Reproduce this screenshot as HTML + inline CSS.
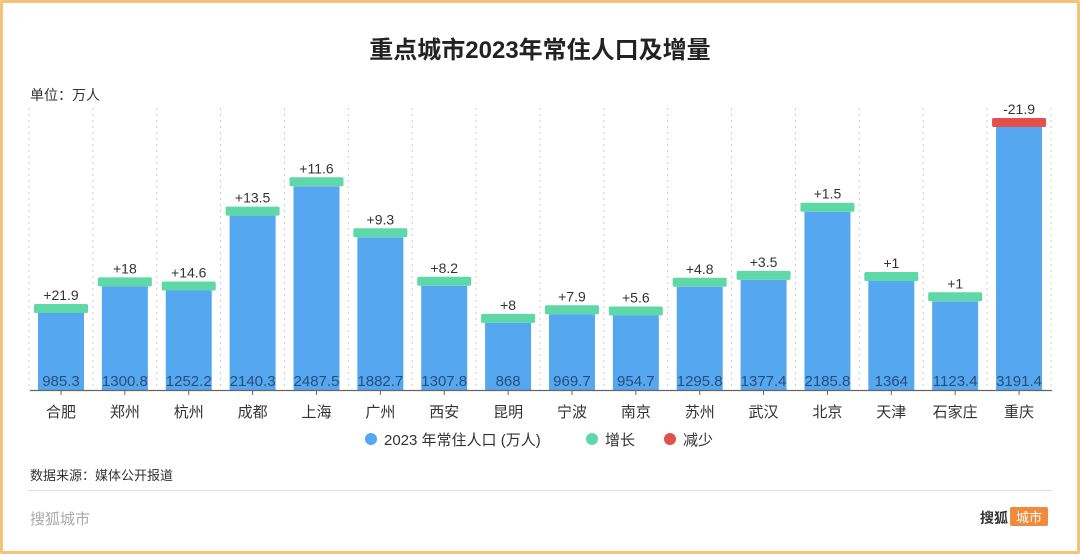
<!DOCTYPE html>
<html><head><meta charset="utf-8"><style>
body{margin:0;width:1080px;height:554px;overflow:hidden;background:#fff;font-family:"Liberation Sans","Noto Sans CJK SC",sans-serif}
#frame{position:absolute;left:0;top:0;width:1074px;height:548px;border:3px solid #f4c27a;border-radius:2px;background:#fff}
</style></head><body>
<div id="frame"></div>
<svg id="c" width="1080" height="554" style="position:absolute;left:0;top:0">
<text x="540" y="58" text-anchor="middle" font-size="24" font-weight="bold" fill="#222">重点城市2023年常住人口及增量</text>
<text x="30" y="100" font-size="14" fill="#333">单位：万人</text>
<g id="grid"></g><g id="bars"></g>
<line x1="30" x2="1052" y1="390.5" y2="390.5" stroke="#666" stroke-width="1.2"/>
<g id="xl"></g>
<g>
<circle cx="371" cy="439" r="6" fill="#55a7ef"/>
<text x="384" y="445" font-size="15" fill="#333">2023 年常住人口 (万人)</text>
<circle cx="592" cy="439" r="6" fill="#5fd8a8"/>
<text x="605" y="445" font-size="15" fill="#333">增长</text>
<circle cx="670" cy="439" r="6" fill="#e4514c"/>
<text x="683" y="445" font-size="15" fill="#333">减少</text>
</g>
<line x1="28" x2="1052" y1="490.5" y2="490.5" stroke="#ddd"/>
<text x="30" y="480" font-size="13" fill="#333">数据来源：媒体公开报道</text>
<text x="30" y="524" font-size="15" fill="#aaa">搜狐城市</text>
<text x="980" y="523" font-size="14" font-weight="bold" fill="#333">搜狐</text>
<rect x="1010" y="507" width="38" height="19" rx="2" fill="#f08a3c"/>
<text x="1029" y="522" text-anchor="middle" font-size="13" fill="#fff">城市</text>
</svg>
<script>
const cities=["合肥","郑州","杭州","成都","上海","广州","西安","昆明","宁波","南京","苏州","武汉","北京","天津","石家庄","重庆"];
const population=[985.3,1300.8,1252.2,2140.3,2487.5,1882.7,1307.8,868,969.7,954.7,1295.8,1377.4,2185.8,1364,1123.4,3191.4];
const change=[21.9,18,14.6,13.5,11.6,9.3,8.2,8,7.9,5.6,4.8,3.5,1.5,1,1,-21.9];
const NS="http://www.w3.org/2000/svg";
const x0=61,step=63.87,base=396,k=0.0843;
const xc=i=>x0+i*step, y=v=>base-v*k;
function mk(p,t,a){const e=document.createElementNS(NS,t);for(const q in a)e.setAttribute(q,a[q]);p.appendChild(e);return e;}
const G=document.getElementById('grid'),B=document.getElementById('bars'),X=document.getElementById('xl');
for(let i=0;i<=cities.length;i++){
 const l=mk(G,'line',{x1:xc(i)-32,x2:xc(i)-32,y1:108,y2:390,stroke:'#ccc','stroke-dasharray':'2,4'});
 
 
}
cities.forEach((c,i)=>{
 const cx=xc(i),top=y(population[i]);
 const r=mk(B,'rect',{x:cx-23,y:top,width:46,height:390-top,fill:'#55a7ef'});
 
 
 const cap=mk(B,'rect',{x:cx-27,y:top-9,width:54,height:9,rx:1.5,fill:change[i]<0?'#e4514c':'#5fd8a8'});
 
 
 const cl=mk(B,'text',{x:cx,y:top-13,'text-anchor':'middle','font-size':14,fill:'#333'});
 cl.textContent=(change[i]>0?'+':'')+change[i];
 
 
 const vl=mk(B,'text',{x:cx,y:386,'text-anchor':'middle','font-size':15,fill:'#2a4d7a'});
 vl.textContent=population[i];
 
 
 const tk=mk(X,'line',{x1:cx,x2:cx,y1:390,y2:395,stroke:'#666'});
 
 
 const t=mk(X,'text',{x:cx,y:417,'text-anchor':'middle','font-size':15,fill:'#333'});
 t.textContent=c;
 
 
});
</script>
</body></html>
